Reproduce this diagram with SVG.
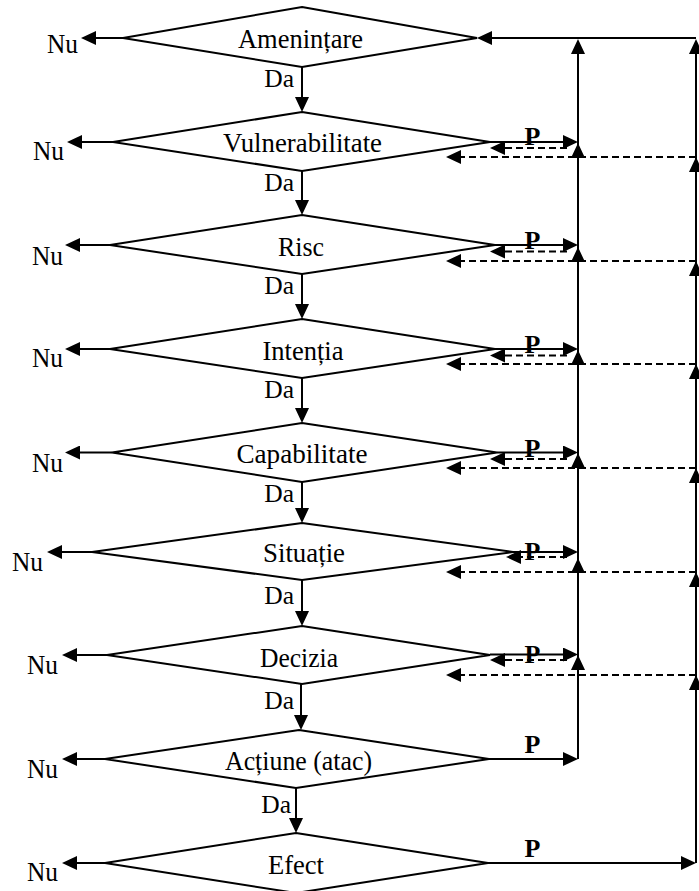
<svg xmlns="http://www.w3.org/2000/svg" width="699" height="891" viewBox="0 0 699 891">
<style>
.d{fill:#fff;stroke:#000;stroke-width:2;stroke-linejoin:miter}
.t{font-family:"Liberation Serif","Times New Roman",serif;font-size:26.5px;fill:#000;text-anchor:middle}
.nu{font-family:"Liberation Serif","Times New Roman",serif;font-size:27px;fill:#000;text-anchor:end}
.da{font-family:"Liberation Serif","Times New Roman",serif;font-size:25.5px;fill:#000;text-anchor:end}
.p{font-family:"Liberation Serif","Times New Roman",serif;font-size:26px;font-weight:bold;fill:#000;text-anchor:middle}
.c{fill:none;stroke:#000;stroke-width:2;marker-end:url(#arr)}
.dash{stroke-dasharray:7 4}
</style>
<defs>
<marker id="arr" markerUnits="userSpaceOnUse" viewBox="0 0 16 14" markerWidth="16" markerHeight="14" refX="10" refY="7" orient="auto">
<path d="M0,0 L15,7 L0,14 z" fill="#000"/>
</marker>
</defs>
<rect width="699" height="891" fill="#fff"/>
<g id="n1"><polygon class="d" points="302,7 477,38 302,67 123,38"/><text class="t" x="300.5" y="48" textLength="125" lengthAdjust="spacingAndGlyphs">Amenințare</text></g>
<g id="n2"><polygon class="d" points="302,112 490,142 302,171 113,142"/><text class="t" x="302.5" y="152" textLength="159" lengthAdjust="spacingAndGlyphs">Vulnerabilitate</text></g>
<g id="n3"><polygon class="d" points="302,215 495,245 302,274 110,245"/><text class="t" x="301" y="256" textLength="46" lengthAdjust="spacingAndGlyphs">Risc</text></g>
<g id="n4"><polygon class="d" points="302,319 495,349 302,378 110,349"/><text class="t" x="303" y="359.5" textLength="81" lengthAdjust="spacingAndGlyphs">Intenția</text></g>
<g id="n5"><polygon class="d" points="302,423 497,452.5 302,482 112,452.5"/><text class="t" x="302" y="463" textLength="131" lengthAdjust="spacingAndGlyphs">Capabilitate</text></g>
<g id="n6"><polygon class="d" points="302,523 513,552 302,580 92,552"/><text class="t" x="304" y="562" textLength="82" lengthAdjust="spacingAndGlyphs">Situație</text></g>
<g id="n7"><polygon class="d" points="302,626 490,655 302,684 107,655"/><text class="t" x="299" y="666.5" textLength="78" lengthAdjust="spacingAndGlyphs">Decizia</text></g>
<g id="n8"><polygon class="d" points="299,730 489,759 296,788 105,759"/><text class="t" x="298.5" y="770" textLength="147" lengthAdjust="spacingAndGlyphs">Acțiune (atac)</text></g>
<g id="n9"><polygon class="d" points="296,833 488,863 296,893 105,863"/><text class="t" x="296" y="874" textLength="56" lengthAdjust="spacingAndGlyphs">Efect</text></g>
<g id="connectors">
<path class="c" d="M123,38 H86"/>
<path class="c" d="M113,142 H72"/>
<path class="c" d="M110,245 H70"/>
<path class="c" d="M110,349 H70"/>
<path class="c" d="M112,452.5 H70"/>
<path class="c" d="M92,552 H52"/>
<path class="c" d="M107,655 H67"/>
<path class="c" d="M105,759 H67"/>
<path class="c" d="M105,863 H67"/>
<path class="c" d="M302,67 V107"/>
<path class="c" d="M302,171 V210"/>
<path class="c" d="M302,274 V314"/>
<path class="c" d="M302,378 V418"/>
<path class="c" d="M302,482 V518"/>
<path class="c" d="M302,580 V621"/>
<path class="c" d="M301,684 V725"/>
<path class="c" d="M296,788 V828"/>
<path class="c" d="M490,142 H573"/>
<path class="c" d="M495,245 H573"/>
<path class="c" d="M495,349 H573"/>
<path class="c" d="M497,452.5 H573"/>
<path class="c" d="M513,552 H573"/>
<path class="c" d="M490,654.5 H573"/>
<path class="c" d="M489,759 H573"/>
<path class="c" d="M488,863 H691"/>
<path class="c" d="M696,38 H482"/>
<path class="c" d="M578,759 V660"/>
<path class="c" d="M578,669 V563"/>
<path class="c" d="M578,572 V458"/>
<path class="c" d="M578,468 V355"/>
<path class="c" d="M578,364 V252"/>
<path class="c" d="M578,261 V148"/>
<path class="c" d="M578,157 V44"/>
<path class="c" d="M696,863 V680"/>
<path class="c" d="M696,691 V577"/>
<path class="c" d="M696,587 V473"/>
<path class="c" d="M696,483 V369"/>
<path class="c" d="M696,380 V266"/>
<path class="c" d="M696,276 V162"/>
<path class="c" d="M696,172 V44"/>
<path class="c dash" d="M696,157 H451"/>
<path class="c dash" d="M696,261 H451"/>
<path class="c dash" d="M696,364 H451"/>
<path class="c dash" d="M696,468 H451"/>
<path class="c dash" d="M696,572 H451"/>
<path class="c dash" d="M696,675 H451"/>
<path class="c dash" d="M567,148 H495"/>
<path class="c dash" d="M567,251.5 H495"/>
<path class="c dash" d="M567,355.5 H495"/>
<path class="c dash" d="M567,459 H495"/>
<path class="c dash" d="M567,557 H511"/>
<path class="c dash" d="M567,660 H495"/>
</g>
<g id="labels">
<text class="nu" x="78" y="53" textLength="31" lengthAdjust="spacingAndGlyphs">Nu</text>
<text class="nu" x="64" y="160" textLength="31" lengthAdjust="spacingAndGlyphs">Nu</text>
<text class="nu" x="63" y="265" textLength="31" lengthAdjust="spacingAndGlyphs">Nu</text>
<text class="nu" x="63" y="367" textLength="31" lengthAdjust="spacingAndGlyphs">Nu</text>
<text class="nu" x="63" y="472" textLength="31" lengthAdjust="spacingAndGlyphs">Nu</text>
<text class="nu" x="43" y="571" textLength="31" lengthAdjust="spacingAndGlyphs">Nu</text>
<text class="nu" x="58" y="674" textLength="31" lengthAdjust="spacingAndGlyphs">Nu</text>
<text class="nu" x="58" y="778" textLength="31" lengthAdjust="spacingAndGlyphs">Nu</text>
<text class="nu" x="58" y="881" textLength="31" lengthAdjust="spacingAndGlyphs">Nu</text>
<text class="da" x="294" y="87">Da</text>
<text class="da" x="294" y="191">Da</text>
<text class="da" x="294" y="294">Da</text>
<text class="da" x="294" y="398">Da</text>
<text class="da" x="294" y="502">Da</text>
<text class="da" x="294" y="604">Da</text>
<text class="da" x="294" y="709">Da</text>
<text class="da" x="291" y="813">Da</text>
<text class="p" x="532.5" y="145">P</text>
<text class="p" x="532.5" y="249">P</text>
<text class="p" x="532.5" y="353">P</text>
<text class="p" x="532.5" y="457">P</text>
<text class="p" x="532.5" y="560">P</text>
<text class="p" x="532.5" y="663">P</text>
<text class="p" x="532.5" y="753">P</text>
<text class="p" x="532.5" y="857">P</text>
</g>
</svg>
